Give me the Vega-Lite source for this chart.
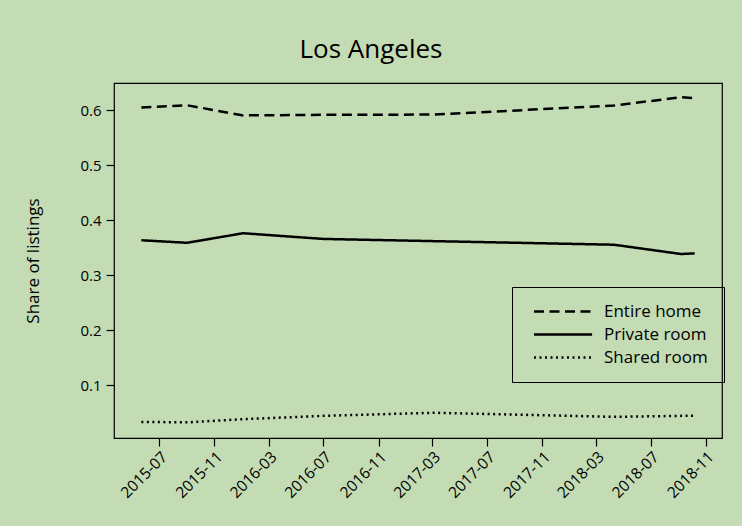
{
  "$schema": "https://vega.github.io/schema/vega-lite/v6.json",
  "width": 608,
  "height": 355,
  "autosize": {"type": "none"},
  "padding": {"left": 114, "top": 83, "right": 20, "bottom": 88},
  "background": "#c4dcb4",
  "title": {"text": "Los Angeles", "fontSize": 26, "font": "Open Sans", "fontWeight": "normal", "color": "black", "anchor": "middle", "dx": -47, "offset": 20},
  "data": {"values": [
    {"date": "2015-05-22", "type": "Entire home", "share": 0.6056},
    {"date": "2015-09-01", "type": "Entire home", "share": 0.6095},
    {"date": "2016-01-04", "type": "Entire home", "share": 0.591},
    {"date": "2016-07-01", "type": "Entire home", "share": 0.592},
    {"date": "2017-03-05", "type": "Entire home", "share": 0.5925},
    {"date": "2018-04-10", "type": "Entire home", "share": 0.609},
    {"date": "2018-09-07", "type": "Entire home", "share": 0.624},
    {"date": "2018-10-07", "type": "Entire home", "share": 0.6225},
    {"date": "2015-05-22", "type": "Private room", "share": 0.3636},
    {"date": "2015-09-01", "type": "Private room", "share": 0.359},
    {"date": "2016-01-04", "type": "Private room", "share": 0.3764},
    {"date": "2016-07-01", "type": "Private room", "share": 0.366},
    {"date": "2017-03-05", "type": "Private room", "share": 0.362},
    {"date": "2018-04-10", "type": "Private room", "share": 0.3555},
    {"date": "2018-09-07", "type": "Private room", "share": 0.3385},
    {"date": "2018-10-07", "type": "Private room", "share": 0.3398},
    {"date": "2015-05-22", "type": "Shared room", "share": 0.0328},
    {"date": "2015-09-01", "type": "Shared room", "share": 0.032},
    {"date": "2016-01-04", "type": "Shared room", "share": 0.0378},
    {"date": "2016-07-01", "type": "Shared room", "share": 0.0438},
    {"date": "2017-03-05", "type": "Shared room", "share": 0.0495},
    {"date": "2018-04-10", "type": "Shared room", "share": 0.042},
    {"date": "2018-09-07", "type": "Shared room", "share": 0.0438},
    {"date": "2018-10-07", "type": "Shared room", "share": 0.0442}
  ]},
  "mark": {"type": "line", "color": "black", "strokeWidth": 2.5},
  "encoding": {
    "x": {
      "field": "date", "type": "temporal",
      "scale": {"type": "utc", "domain": [{"year": 2015, "month": 3, "date": 22, "utc": true}, {"year": 2018, "month": 12, "date": 7, "utc": true}]},
      "axis": {
        "title": null, "format": "%Y-%m", "labelAngle": -45, "labelAlign": "right", "labelBaseline": "top", "labelPadding": 3, "labelFontSize": 15.5,
        "values": [
          {"year": 2015, "month": 7, "date": 1, "utc": true},
          {"year": 2015, "month": 11, "date": 1, "utc": true},
          {"year": 2016, "month": 3, "date": 1, "utc": true},
          {"year": 2016, "month": 7, "date": 1, "utc": true},
          {"year": 2016, "month": 11, "date": 1, "utc": true},
          {"year": 2017, "month": 3, "date": 1, "utc": true},
          {"year": 2017, "month": 7, "date": 1, "utc": true},
          {"year": 2017, "month": 11, "date": 1, "utc": true},
          {"year": 2018, "month": 3, "date": 1, "utc": true},
          {"year": 2018, "month": 7, "date": 1, "utc": true},
          {"year": 2018, "month": 11, "date": 1, "utc": true}
        ]
      }
    },
    "y": {
      "field": "share", "type": "quantitative",
      "scale": {"domain": [0.0035, 0.65], "nice": false, "zero": false},
      "axis": {"title": "Share of listings", "values": [0.1, 0.2, 0.3, 0.4, 0.5, 0.6], "format": ".1f", "titlePadding": 37, "labelPadding": 5}
    },
    "strokeDash": {
      "field": "type", "type": "nominal",
      "scale": {"domain": ["Entire home", "Private room", "Shared room"], "range": [[10, 5.5], [1, 0], [2, 3.5]]},
      "legend": {
        "title": null, "orient": "none", "legendX": 398, "legendY": 204,
        "strokeColor": "black", "fillColor": null, "padding": 16,
        "symbolType": "M-0.43,0H9.57", "symbolSize": 135, "symbolStrokeWidth": 2.5, "symbolStrokeColor": "black", "symbolFillColor": "transparent",
        "labelFontSize": 17, "labelFont": "Open Sans", "labelColor": "black", "labelOffset": 59, "rowPadding": 5,
        "labelExpr": "datum.label + ' '"
      }
    }
  },
  "config": {
    "view": {"stroke": "black", "strokeWidth": 1.2},
    "axis": {
      "domain": false, "grid": false, "ticks": true, "tickColor": "black", "tickSize": 8, "tickWidth": 1.2,
      "labelFont": "Open Sans", "labelFontSize": 15, "labelColor": "black",
      "titleFont": "Open Sans", "titleFontSize": 17, "titleFontWeight": "normal", "titleColor": "black"
    }
  }
}
